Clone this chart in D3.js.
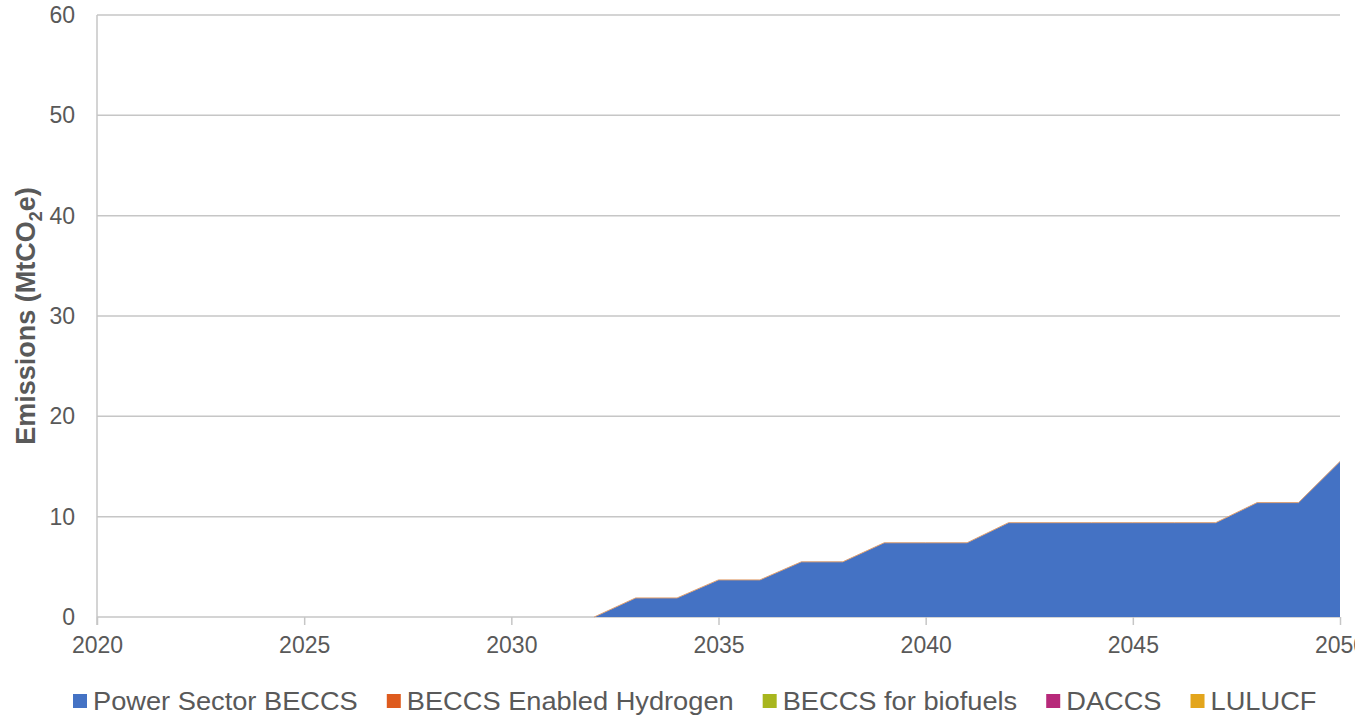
<!DOCTYPE html>
<html>
<head>
<meta charset="utf-8">
<script src="https://cdn.jsdelivr.net/npm/d3@7"></script>
<style>
  body { margin: 0; background: #fff; }
  svg { display: block; overflow: hidden; }
  text { font-family: "Liberation Sans", Arial, sans-serif; fill: #595959; }
</style>
</head>
<body>
<svg id="canvas"></svg>
<script>
const width = 1355;
const height = 719;
const margin = { top: 15, right: 15, bottom: 102, left: 97 };

const years = d3.range(2020, 2051);
const seriesNames = [
  "Power Sector BECCS",
  "BECCS Enabled Hydrogen",
  "BECCS for biofuels",
  "DACCS",
  "LULUCF"
];
const seriesColors = ["#4472C4", "#DE5B1E", "#A8B61E", "#B7297A", "#E3A51C"];

// 2020 .. 2050
const powerBeccs = [
  0, 0, 0, 0, 0, 0, 0, 0, 0, 0,
  0, 0, 0, 1.9, 1.9, 3.7, 3.7, 5.5, 5.5, 7.4,
  7.4, 7.4, 9.4, 9.4, 9.4, 9.4, 9.4, 9.4, 11.4, 11.4,
  15.5
];
const beccsHydrogen = years.map(() => 0);
const beccsBiofuels = years.map(() => 0);
const daccs = years.map(() => 0);
const lulucf = years.map(() => 0);

const yTicks = [0, 10, 20, 30, 40, 50, 60];
const xTicks = [2020, 2025, 2030, 2035, 2040, 2045, 2050];

const allSeries = [powerBeccs, beccsHydrogen, beccsBiofuels, daccs, lulucf];
const table = years.map((y, i) => {
  const row = { year: y };
  seriesNames.forEach((n, k) => (row[n] = allSeries[k][i]));
  return row;
});

const svg = d3.select("#canvas").attr("width", width).attr("height", height);

const x = d3
  .scaleLinear()
  .domain([2020, 2050])
  .range([margin.left, width - margin.right]);

const y = d3
  .scaleLinear()
  .domain([0, 60])
  .range([height - margin.bottom, margin.top]);

// gridlines
svg
  .append("g")
  .selectAll("line")
  .data(yTicks)
  .enter()
  .append("line")
  .attr("x1", margin.left)
  .attr("x2", width - margin.right)
  .attr("y1", (d) => y(d))
  .attr("y2", (d) => y(d))
  .attr("stroke", "#c6c6c6")
  .attr("stroke-width", 1.5);

const stacked = d3.stack().keys(seriesNames)(table);

const area = d3
  .area()
  .x((d) => x(d.data.year))
  .y0((d) => y(d[0]))
  .y1((d) => y(d[1]));

svg
  .append("g")
  .selectAll("path")
  .data(stacked)
  .enter()
  .append("path")
  .attr("d", area)
  .attr("fill", (d, i) => seriesColors[i]);

// thin edge of the (empty) top series, only where the stack has height
const topSeries = stacked[stacked.length - 1];
const hasHeight = (i) => i >= 0 && i < topSeries.length && topSeries[i][1] > 0;
const edge = d3
  .line()
  .defined((d, i) => hasHeight(i) || hasHeight(i + 1))
  .x((d) => x(d.data.year))
  .y((d) => y(d[1]));

svg
  .append("path")
  .attr("d", edge(topSeries))
  .attr("fill", "none")
  .attr("stroke", "#E0A070")
  .attr("stroke-width", 1);

// y axis
const yAxis = svg
  .append("g")
  .attr("transform", `translate(${margin.left},0)`)
  .call(d3.axisLeft(y).tickValues(yTicks).tickSize(0).tickPadding(22));
yAxis.select(".domain").remove();
yAxis.selectAll("text").style("font-size", "23px").attr("fill", "#595959");

svg
  .append("line")
  .attr("x1", margin.left)
  .attr("x2", margin.left)
  .attr("y1", margin.top)
  .attr("y2", y(0) + 8)
  .attr("stroke", "#c6c6c6")
  .attr("stroke-width", 1.5);

// x axis
const xAxis = svg
  .append("g")
  .attr("transform", `translate(0,${y(0)})`)
  .call(
    d3.axisBottom(x).tickValues(xTicks).tickFormat(d3.format("d")).tickSize(8).tickPadding(12)
  );
xAxis.select(".domain").remove();
xAxis.selectAll("line").attr("stroke", "#c6c6c6").attr("stroke-width", 1.5);
xAxis.selectAll("text").style("font-size", "23px").attr("fill", "#595959");

// axis title
const title = svg
  .append("text")
  .attr("transform", `translate(35,${(y(0) + y(60)) / 2}) rotate(-90)`)
  .attr("text-anchor", "middle")
  .style("font-size", "27px")
  .style("font-weight", "bold");
title.append("tspan").text("Emissions (MtCO");
title.append("tspan").attr("dy", 7).style("font-size", "18px").text("2");
title.append("tspan").attr("dy", -7).text("e)");

// legend
const legend = svg.append("g").attr("transform", "translate(73,701)");
let lx = 0;
seriesNames.forEach((name, i) => {
  const g = legend.append("g").attr("transform", `translate(${lx},0)`);
  g.append("rect")
    .attr("x", 0)
    .attr("y", -7)
    .attr("width", 14)
    .attr("height", 14)
    .attr("fill", seriesColors[i]);
  const t = g
    .append("text")
    .attr("transform", "translate(20,0) scale(1.09,1)")
    .attr("dy", "0.35em")
    .style("font-size", "25px")
    .text(name);
  lx += 20 + t.node().getComputedTextLength() * 1.09 + 29;
});
</script>
</body>
</html>
